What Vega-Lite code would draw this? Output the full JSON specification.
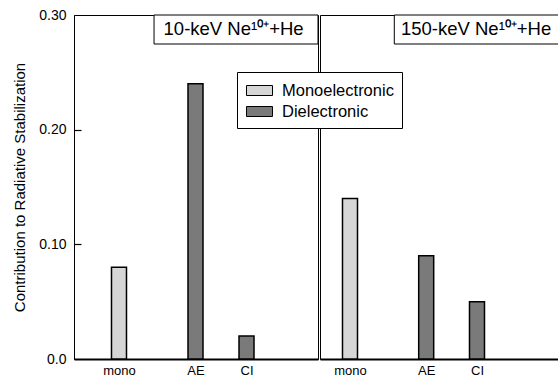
{
  "$schema": "https://vega.github.io/schema/vega-lite/v6.json",
  "autosize": {"type": "pad"},
  "padding": {"left": 12, "top": 7, "right": 0, "bottom": 0},
  "background": "white",
  "config": {
    "font": "Liberation Sans",
    "view": {"stroke": "black", "strokeWidth": 1},
    "concat": {"spacing": 0},
    "axis": {
      "labelFont": "Liberation Sans",
      "titleFont": "Liberation Sans",
      "labelColor": "black",
      "titleColor": "black",
      "domainColor": "black",
      "tickColor": "black",
      "grid": false
    }
  },
  "datasets": {
    "bars": [
      {"energy": "10-keV", "process": "mono", "type": "Monoelectronic", "contribution": 0.08},
      {"energy": "10-keV", "process": "AE", "type": "Dielectronic", "contribution": 0.24},
      {"energy": "10-keV", "process": "CI", "type": "Dielectronic", "contribution": 0.02},
      {"energy": "150-keV", "process": "mono", "type": "Monoelectronic", "contribution": 0.14},
      {"energy": "150-keV", "process": "AE", "type": "Dielectronic", "contribution": 0.09},
      {"energy": "150-keV", "process": "CI", "type": "Dielectronic", "contribution": 0.05}
    ]
  },
  "hconcat": [
    {
      "width": 244,
      "height": 344,
      "layer": [
        {
          "data": {"name": "bars"},
          "transform": [{"filter": "datum.energy == '10-keV'"}],
          "mark": {"type": "bar", "size": 15, "stroke": "black", "strokeWidth": 1.5},
          "encoding": {
            "x": {
              "field": "process",
              "type": "nominal",
              "scale": {"type": "point", "domain": ["p0", "mono", "s1", "s2", "AE", "s3", "CI", "q1", "q2"], "padding": 0.784, "align": 0.4875},
              "axis": {"title": null, "values": ["mono", "AE", "CI"], "labelAngle": 0, "ticks": false, "labelFontSize": 13, "labelPadding": 5, "domainWidth": 2}
            },
            "y": {
              "field": "contribution",
              "type": "quantitative",
              "scale": {"domain": [0, 0.3], "nice": false, "zero": true},
              "axis": {
                "title": "Contribution to Radiative Stabilization",
                "values": [0, 0.1, 0.2, 0.3],
                "labelExpr": "datum.value == 0 ? '0.0' : format(datum.value, '.2f')",
                "ticks": false,
                "labelPadding": 8,
                "labelFontSize": 14,
                "titleFontSize": 15,
                "titleFontWeight": "normal",
                "titlePadding": 11
              }
            },
            "fill": {
              "field": "type",
              "type": "nominal",
              "scale": {"domain": ["Monoelectronic", "Dielectronic"], "range": ["#d6d6d6", "#7a7a7a"]},
              "legend": {
                "orient": "none",
                "legendX": 163,
                "legendY": 57,
                "title": null,
                "symbolType": "M-0.9,-0.5H1.7V0.5H-0.9Z",
                "symbolSize": 400,
                "symbolStrokeColor": "black",
                "symbolStrokeWidth": 1,
                "labelFontSize": 16.5,
                "labelFont": "Liberation Sans",
                "labelColor": "black",
                "labelOffset": 16,
                "padding": 8,
                "rowPadding": 2,
                "strokeColor": "black",
                "fillColor": "white"
              }
            }
          }
        },
        {
          "data": {"values": [{"label": "10-keV Ne¹⁰⁺+He"}]},
          "mark": {"type": "rect", "fill": "white", "stroke": "black", "strokeWidth": 1},
          "encoding": {
            "x": {"datum": 0.328, "type": "quantitative", "scale": {"domain": [0, 1]}, "axis": null},
            "x2": {"datum": 1},
            "y": {
              "datum": 0.3,
              "type": "quantitative",
              "scale": {"domain": [0, 0.3], "nice": false, "zero": true},
              "axis": {"orient": "left", "offset": -7, "domain": false, "labels": false, "ticks": true, "tickSize": 7, "tickWidth": 1.2, "values": [0.1, 0.2], "title": null}
            },
            "y2": {"datum": 0.2747}
          }
        },
        {
          "data": {"values": [{"label": "10-keV Ne¹⁰⁺+He"}]},
          "mark": {"type": "text", "fontSize": 18.5, "font": "Liberation Sans", "align": "center", "baseline": "middle", "color": "black"},
          "encoding": {
            "x": {"datum": 0.654, "type": "quantitative", "scale": {"domain": [0, 1]}, "axis": null},
            "y": {"datum": 0.2874, "type": "quantitative", "scale": {"domain": [0, 0.3], "nice": false, "zero": true}, "axis": null},
            "text": {"field": "label"}
          }
        }
      ],
      "resolve": {"scale": {"x": "independent", "y": "independent"}}
    },
    {
      "width": 242,
      "height": 344,
      "layer": [
        {
          "data": {"name": "bars"},
          "transform": [{"filter": "datum.energy == '150-keV'"}],
          "mark": {"type": "bar", "size": 15, "stroke": "black", "strokeWidth": 1.5},
          "encoding": {
            "x": {
              "field": "process",
              "type": "nominal",
              "scale": {"type": "point", "domain": ["p0", "mono", "s1", "s2", "AE", "s3", "CI", "q1", "q2", "q3"], "padding": 0.264, "align": 0.343},
              "axis": {"title": null, "values": ["mono", "AE", "CI"], "labelAngle": 0, "ticks": false, "labelFontSize": 13, "labelPadding": 5, "domainWidth": 2}
            },
            "y": {
              "field": "contribution",
              "type": "quantitative",
              "scale": {"domain": [0, 0.3], "nice": false, "zero": true},
              "axis": null
            },
            "fill": {
              "field": "type",
              "type": "nominal",
              "scale": {"domain": ["Monoelectronic", "Dielectronic"], "range": ["#d6d6d6", "#7a7a7a"]}
            }
          }
        },
        {
          "data": {"values": [{"label": "150-keV Ne¹⁰⁺+He"}]},
          "mark": {"type": "rect", "fill": "white", "stroke": "black", "strokeWidth": 1},
          "encoding": {
            "x": {"datum": 0.307, "type": "quantitative", "scale": {"domain": [0, 1]}, "axis": null},
            "x2": {"datum": 1.01},
            "y": {"datum": 0.3},
            "y2": {"datum": 0.2747}
          }
        },
        {
          "data": {"values": [{"label": "150-keV Ne¹⁰⁺+He"}]},
          "mark": {"type": "text", "fontSize": 18.5, "font": "Liberation Sans", "align": "center", "baseline": "middle", "color": "black"},
          "encoding": {
            "x": {"datum": 0.645, "type": "quantitative", "scale": {"domain": [0, 1]}, "axis": null},
            "y": {"datum": 0.2874},
            "text": {"field": "label"}
          }
        }
      ],
      "resolve": {"scale": {"x": "independent"}}
    }
  ],
  "resolve": {"scale": {"fill": "shared"}, "legend": {"fill": "shared"}}
}
